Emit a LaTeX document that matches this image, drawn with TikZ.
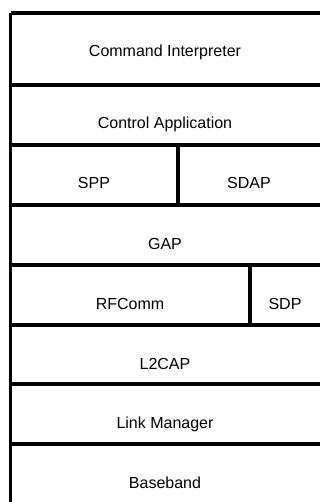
\documentclass[tikz,border=0pt]{standalone}
\usepackage{fontspec}
\setmainfont{Liberation Sans}
\usepackage{tikz}

\tikzset{
	layer/.style={anchor=base, inner sep=0pt, font=\fontsize{16}{19}\selectfont},
	wall/.style={line width=3.6pt}
}

\begin{document}
\begin{tikzpicture}[x=1pt,y=-1pt]
		\useasboundingbox (0,0) rectangle (320,502);
		% outer frame
		\draw[wall] (10.5,13) -- (10.5,502);
		\draw[wall] (10.5,13) -- (320,13);
		% horizontal separators
		\foreach \y in {85,145,205,265,325,384,444}
			\draw[wall] (10.5,\y) -- (320,\y);
		% vertical separators
		\draw[wall] (178,145) -- (178,206.5);
		\draw[wall] (250,263.5) -- (250,325);
		% layers
		\node[layer] (cmd) at (165,57) {Command Interpreter};
		\node[layer] (ctrl) at (165,129) {Control Application};
		\node[layer] (spp) at (94,189) {SPP};
		\node[layer] (sdap) at (249,189) {SDAP};
		\node[layer] (gap) at (165,249) {GAP};
		\node[layer] (rfc) at (130,309) {RFComm};
		\node[layer] (sdp) at (285,309) {SDP};
		\node[layer] (l2cap) at (165,369) {L2CAP};
		\node[layer] (lmp) at (165,428) {Link Manager};
		\node[layer] (bb) at (165,488) {Baseband};
	\end{tikzpicture}
\end{document}
